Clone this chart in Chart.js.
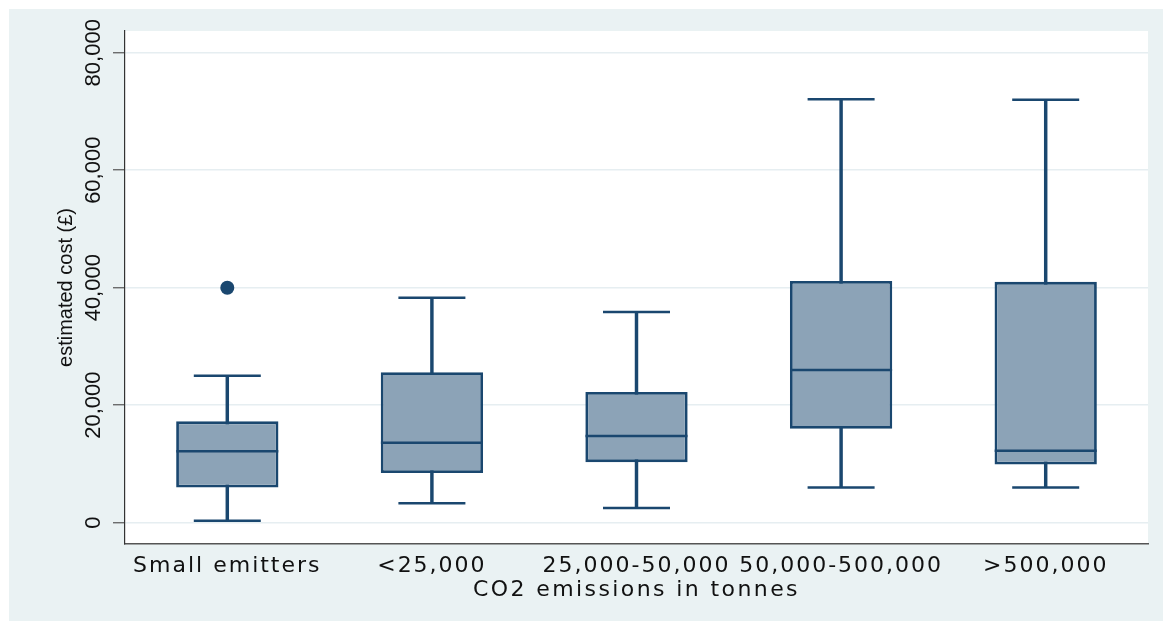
<!DOCTYPE html>
<html>
<head>
<meta charset="utf-8">
<script src="https://cdn.jsdelivr.net/npm/chart.js@4.4.1/dist/chart.umd.min.js"></script>
<style>
  html, body { margin: 0; padding: 0; background: #fff; }
  canvas { display: block; }
</style>
</head>
<body>
<canvas id="boxes" width="1163" height="621"></canvas>
<script>
// box plot summary per emissions band
const categories = ['Small emitters', '<25,000', '25,000-50,000', '50,000-500,000', '>500,000'];
const whiskerLow = [340, 3300, 2500, 6000, 6000];
const q1 = [6000, 8450, 10300, 16000, 9900];
const median = [12150, 13600, 14750, 26000, 12250];
const q3 = [17250, 25600, 22250, 41150, 41000];
const whiskerHigh = [25000, 38300, 35850, 72100, 72000];
const outliers = [40000, null, null, null, null];
const yTicks = [0, 20000, 40000, 60000, 80000];

const navy = '#1a476f';
const boxFill = '#8ca3b7';
const bgColor = '#eaf2f3';

// page + plot region backgrounds, stata style
const backdrop = {
  id: 'backdrop',
  beforeDraw(chart) {
    const { ctx, width, height, chartArea } = chart;
    ctx.save();
    ctx.fillStyle = '#fff';
    ctx.fillRect(0, 0, width, height);
    ctx.fillStyle = bgColor;
    ctx.fillRect(9, 9, width - 9, height - 9);
    ctx.fillStyle = '#fff';
    ctx.fillRect(chartArea.left, chartArea.top, chartArea.right - chartArea.left, chartArea.bottom - chartArea.top);
    ctx.restore();

    // wider looking x labels
    const xs = chart.scales.x;
    if (!xs._spaced) {
      const lab = xs.drawLabels, tit = xs.drawTitle;
      xs.drawLabels = function (a) { this.ctx.save(); this.ctx.letterSpacing = '2px'; lab.call(this, a); this.ctx.restore(); };
      xs.drawTitle = function () { this.ctx.save(); this.ctx.letterSpacing = '2.4px'; tit.call(this); this.ctx.restore(); };
      xs._spaced = true;
    }
  }
};

const noPad = (scale) => {
  scale.paddingTop = 0;
  scale.paddingBottom = 0;
  scale.paddingLeft = 0;
  scale.paddingRight = 0;
};

const boxRanges = q1.map((v, i) => [v, q3[i]]);
const stemRanges = whiskerLow.map((v, i) => [v, whiskerHigh[i]]);

const marker = (data, radius, extra) => Object.assign({
  type: 'line',
  data: data,
  showLine: false,
  pointStyle: 'line',
  pointRadius: radius,
  pointHoverRadius: radius,
  pointBorderWidth: 2.5,
  pointBorderColor: navy,
  borderColor: navy
}, extra || {});

new Chart(document.getElementById('boxes'), {
  type: 'bar',
  data: {
    labels: categories,
    datasets: [
      marker(outliers, 7, { pointStyle: 'circle', pointBackgroundColor: navy, pointBorderWidth: 0 }),
      marker(median, 51),
      {
        data: boxRanges,
        backgroundColor: boxFill,
        borderColor: navy,
        borderWidth: 2.8,
        borderSkipped: false,
        grouped: false,
        barPercentage: 0.5,
        categoryPercentage: 1
      },
      marker(whiskerHigh, 33.5),
      marker(whiskerLow, 33.5),
      {
        data: stemRanges,
        backgroundColor: navy,
        borderWidth: 0,
        grouped: false,
        barThickness: 2.8
      }
    ]
  },
  options: {
    responsive: false,
    animation: false,
    layout: { autoPadding: false, padding: { left: 0, top: 31, right: 15, bottom: 0 } },
    plugins: {
      legend: { display: false },
      tooltip: { enabled: false }
    },
    scales: {
      x: {
        offset: true,
        grid: { display: false, drawTicks: false },
        border: { display: true, color: '#555', width: 1.5 },
        ticks: {
          color: '#111',
          padding: 9,
          maxRotation: 0,
          autoSkip: false,
          font: { family: 'DejaVu Sans', size: 22 }
        },
        title: {
          display: true,
          text: 'CO2 emissions in tonnes',
          color: '#111',
          padding: { top: 0, bottom: 18 },
          font: { family: 'DejaVu Sans', size: 22 }
        },
        afterFit(scale) { scale.height = 77; noPad(scale); }
      },
      y: {
        min: -3630,
        max: 83700,
        afterBuildTicks(scale) { scale.ticks = yTicks.map(v => ({ value: v })); },
        grid: { color: '#e6eef1', lineWidth: 1.5, tickLength: 12, tickColor: '#555', tickWidth: 1.2 },
        border: { display: true, color: '#333', width: 1.2 },
        ticks: {
          color: '#111',
          minRotation: 90,
          maxRotation: 90,
          crossAlign: 'center',
          padding: -15,
          font: { family: 'Liberation Sans', size: 22 },
          callback: v => v.toLocaleString('en-US')
        },
        title: {
          display: true,
          text: 'estimated cost (£)',
          color: '#111',
          padding: { top: 54, bottom: 0 },
          font: { family: 'Liberation Sans', size: 20 }
        },
        afterFit(scale) { scale.width = 125; noPad(scale); }
      }
    }
  },
  plugins: [backdrop]
});
</script>
</body>
</html>
